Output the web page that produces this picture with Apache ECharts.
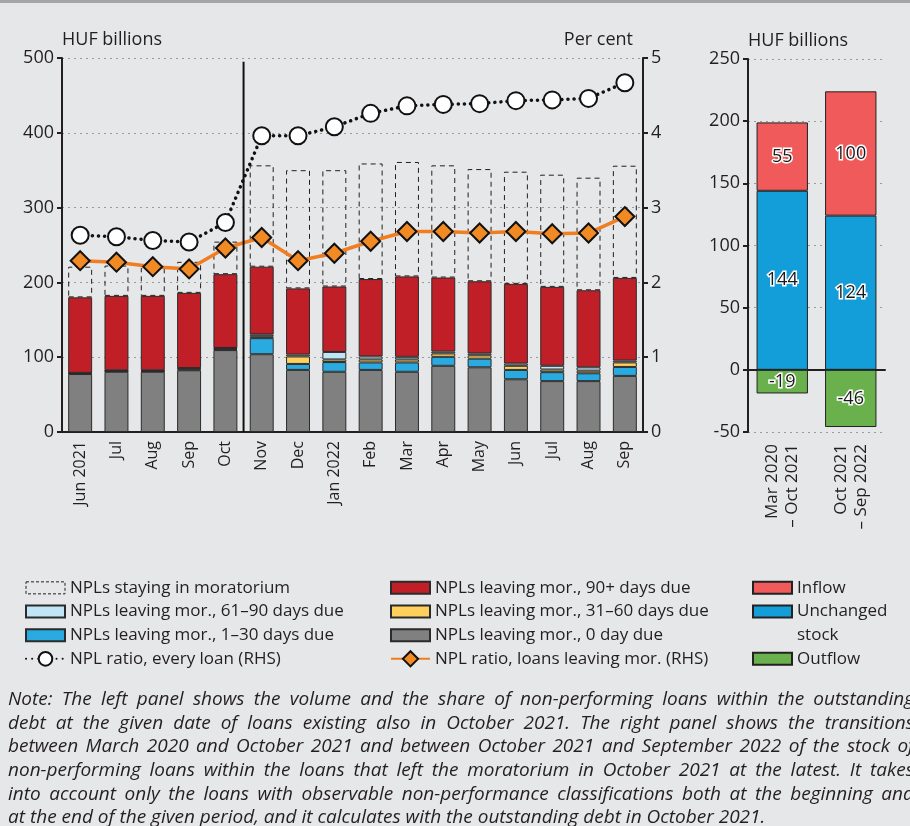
<!DOCTYPE html>
<html>
<head>
<meta charset="utf-8">
<title>NPLs leaving the moratorium</title>
<script src="https://cdn.jsdelivr.net/npm/echarts@6/dist/echarts.min.js"></script>
<style>
  html, body { margin: 0; padding: 0; background: #e6e7e8; }
  #chart { width: 910px; height: 826px; }
</style>
</head>
<body>
<div id="chart"></div>
<script>
// left panel: months
const months = ['Jun 2021', 'Jul', 'Aug', 'Sep', 'Oct', 'Nov', 'Dec', 'Jan 2022', 'Feb', 'Mar', 'Apr', 'May', 'Jun', 'Jul', 'Aug', 'Sep']
// HUF billions, stacked from the bottom
const zeroDay = [77.5, 80.5, 80.5, 82.5, 109.5, 104, 83, 80.5, 83, 80.5, 88.5, 86.5, 70.5, 68, 68, 75]
const days1to30 = [0.8, 0.8, 0.8, 1, 1, 21.5, 8, 13, 10, 12.5, 12, 11.5, 12.5, 12, 10.5, 12]
const days31to60 = [0.4, 0.5, 0.5, 1.5, 1, 2.5, 10, 3.5, 4, 4, 4.5, 4.5, 5.5, 3.5, 3.5, 6]
const days61to90 = [0.3, 0.7, 0.7, 0.5, 0.8, 2.5, 2.5, 10, 4, 3.5, 2.5, 2.5, 3, 5, 4.5, 2.5]
const days90plus = [101, 99.5, 99.5, 100.5, 98.7, 90.5, 88.5, 87.5, 103.5, 107.5, 99, 96.5, 106.5, 105.5, 103, 110.5]
const stayingMor = [41, 40.5, 37.5, 41.5, 43.5, 135.5, 158, 155.5, 154.5, 153, 150, 150, 150, 150, 150.5, 150]
// per cent (RHS)
const ratioEvery = [2.63, 2.61, 2.56, 2.54, 2.80, 3.96, 3.96, 4.08, 4.26, 4.36, 4.38, 4.39, 4.43, 4.44, 4.46, 4.67]
const ratioLeaving = [2.29, 2.27, 2.21, 2.18, 2.46, 2.60, 2.29, 2.39, 2.55, 2.68, 2.68, 2.66, 2.68, 2.65, 2.66, 2.88]

// right panel: transitions
const periods = ['Mar 2020\n\u2013 Oct 2021', 'Oct 2021\n\u2013 Sep 2022']
const unchanged = [144, 124]
const inflow = [55, 100]
const outflow = [-19, -46]

const noteLines = [
  'Note: The left panel shows the volume and the share of non-performing loans within the outstanding',
  'debt at the given date of loans existing also in October 2021. The right panel shows the transitions',
  'between March 2020 and October 2021 and between October 2021 and September 2022 of the stock of',
  'non-performing loans within the loans that left the moratorium in October 2021 at the latest. It takes',
  'into account only the loans with observable non-performance classifications both at the beginning and',
  'at the end of the given period, and it calculates with the outstanding debt in October 2021.'
]

const FONT = 'Open Sans'
const TXT = '#231f20'

const chart = echarts.init(document.getElementById('chart'))

function barSeries (name, data, color) {
  return {
    name: name,
    type: 'bar',
    stack: 'left',
    xAxisIndex: 0,
    yAxisIndex: 0,
    barWidth: '66%',
    data: data,
    itemStyle: { color: color, borderColor: '#2b2b2b', borderWidth: 1 },
    emphasis: { disabled: true }
  }
}

function rightBar (name, data, color) {
  return {
    name: name,
    type: 'bar',
    stack: 'right',
    xAxisIndex: 1,
    yAxisIndex: 2,
    barWidth: '75%',
    data: data,
    itemStyle: { color: color, borderColor: '#222', borderWidth: 1 },
    label: {
      show: true,
      position: 'inside',
      fontFamily: FONT,
      fontSize: 18,
      color: '#1a1a1a',
      textBorderColor: '#fff',
      textBorderWidth: 3
    },
    emphasis: { disabled: true }
  }
}

const valueAxisBase = {
  type: 'value',
  axisLine: { show: true, lineStyle: { color: '#231f20', width: 2 } },
  axisTick: { show: true, length: 5, lineStyle: { color: '#231f20', width: 2 } },
  axisLabel: { fontFamily: FONT, fontSize: 18, color: TXT, margin: 8 },
  nameTextStyle: { fontFamily: FONT, fontSize: 18, color: TXT },
  nameGap: 9
}

const legendBase = {
  orient: 'vertical',
  padding: 0,
  itemWidth: 39,
  itemHeight: 12,
  itemGap: 0,
  selectedMode: false,
  textStyle: { fontFamily: FONT, fontSize: 17, color: TXT, lineHeight: 23.7 }
}

const graphics = [
  { type: 'rect', left: 0, top: 0, shape: { width: 910, height: 3 }, style: { fill: '#a5a5a5' } },
  { type: 'text', left: 797, top: 627, style: { text: 'stock', fontFamily: FONT, fontSize: 17, fill: TXT } }
]

// note text, justified like the source (runs slightly past the right edge)
const noteFont = 'italic 19px "Open Sans"'
const measure = document.createElement('canvas').getContext('2d')
measure.font = noteFont
noteLines.forEach(function (line, i) {
  const top = 690 + i * 23.7
  const style = { fontFamily: FONT, fontStyle: 'italic', fontSize: 19, fill: TXT }
  if (i === noteLines.length - 1) {
    graphics.push({ type: 'text', left: 8, top: top, style: Object.assign({ text: line }, style) })
    return
  }
  const words = line.split(' ')
  const widths = words.map(function (w) { return measure.measureText(w).width })
  const total = widths.reduce(function (a, b) { return a + b }, 0)
  const gap = (914 - 8 - total) / (words.length - 1)
  let x = 8
  words.forEach(function (w, j) {
    graphics.push({ type: 'text', x: x, y: top, style: Object.assign({ text: w }, style) })
    x += widths[j] + gap
  })
})

chart.setOption({
  backgroundColor: '#e6e7e8',
  animation: false,
  textStyle: { fontFamily: FONT },
  grid: [
    { left: 62, right: 267, top: 58, bottom: 394 },
    { left: 748, right: 25, top: 59, bottom: 394 }
  ],
  xAxis: [
    {
      type: 'category',
      gridIndex: 0,
      data: months,
      axisLine: { lineStyle: { color: '#231f20', width: 2 } },
      axisTick: { length: 6, lineStyle: { color: '#231f20', width: 2 } },
      axisLabel: { rotate: 90, interval: 0, fontFamily: FONT, fontSize: 16, color: TXT, margin: 9 }
    },
    {
      type: 'category',
      gridIndex: 1,
      data: periods,
      axisLine: { lineStyle: { color: '#231f20', width: 2 } },
      axisTick: { length: 6, lineStyle: { color: '#231f20', width: 2 } },
      axisLabel: { rotate: 90, interval: 0, fontFamily: FONT, fontSize: 17, color: TXT, margin: 12, lineHeight: 20 }
    }
  ],
  yAxis: [
    Object.assign({}, valueAxisBase, {
      gridIndex: 0,
      min: 0,
      max: 500,
      interval: 100,
      name: 'HUF billions',
      nameLocation: 'end',
      nameTextStyle: Object.assign({}, valueAxisBase.nameTextStyle, { align: 'left' }),
      splitLine: { show: true, lineStyle: { color: '#9a9a9a', type: [2, 4], width: 1 } }
    }),
    Object.assign({}, valueAxisBase, {
      gridIndex: 0,
      position: 'right',
      min: 0,
      max: 5,
      interval: 1,
      name: 'Per cent',
      nameLocation: 'end',
      nameTextStyle: Object.assign({}, valueAxisBase.nameTextStyle, { align: 'right', padding: [0, 10, 0, 0] }),
      splitLine: { show: false }
    }),
    Object.assign({}, valueAxisBase, {
      gridIndex: 1,
      min: -50,
      max: 250,
      interval: 50,
      name: 'HUF billions',
      nameLocation: 'end',
      nameTextStyle: Object.assign({}, valueAxisBase.nameTextStyle, { align: 'left' }),
      splitLine: { show: true, lineStyle: { color: '#9a9a9a', type: [2, 4], width: 1 } }
    })
  ],
  legend: [
    Object.assign({}, legendBase, {
      left: 25,
      top: 576,
      data: [
        {
          name: 'NPLs staying in moratorium',
          icon: 'rect',
          itemStyle: { color: 'rgba(0,0,0,0)', borderColor: '#231f20', borderWidth: 1, borderType: [3, 2] }
        },
        { name: 'NPLs leaving mor., 61\u201390 days due', icon: 'rect' },
        { name: 'NPLs leaving mor., 1\u201330 days due', icon: 'rect' }
      ]
    }),
    Object.assign({}, legendBase, {
      left: 25,
      top: 647,
      itemHeight: 17,
      data: ['NPL ratio, every loan (RHS)']
    }),
    Object.assign({}, legendBase, {
      left: 390,
      top: 576,
      data: [
        { name: 'NPLs leaving mor., 90+ days due', icon: 'rect' },
        { name: 'NPLs leaving mor., 31\u201360 days due', icon: 'rect' },
        { name: 'NPLs leaving mor., 0 day due', icon: 'rect' }
      ]
    }),
    Object.assign({}, legendBase, {
      left: 390,
      top: 647,
      itemHeight: 19,
      data: ['NPL ratio, loans leaving mor. (RHS)']
    }),
    Object.assign({}, legendBase, {
      left: 752,
      top: 576,
      data: [
        { name: 'Inflow', icon: 'rect' },
        { name: 'Unchanged', icon: 'rect' }
      ]
    }),
    Object.assign({}, legendBase, {
      left: 752,
      top: 647,
      data: [{ name: 'Outflow', icon: 'rect' }]
    })
  ],
  series: [
    barSeries('NPLs leaving mor., 0 day due', zeroDay, '#808080'),
    barSeries('NPLs leaving mor., 1\u201330 days due', days1to30, '#29abe2'),
    barSeries('NPLs leaving mor., 31\u201360 days due', days31to60, '#ffd05c'),
    barSeries('NPLs leaving mor., 61\u201390 days due', days61to90, '#bfe5f6'),
    barSeries('NPLs leaving mor., 90+ days due', days90plus, '#c01f27'),
    {
      name: 'NPLs staying in moratorium',
      type: 'bar',
      stack: 'left',
      xAxisIndex: 0,
      yAxisIndex: 0,
      barWidth: '66%',
      data: stayingMor,
      itemStyle: { color: 'rgba(0,0,0,0)', borderColor: '#231f20', borderWidth: 1, borderType: [5, 4] },
      emphasis: { disabled: true }
    },
    {
      name: 'NPL ratio, every loan (RHS)',
      type: 'line',
      xAxisIndex: 0,
      yAxisIndex: 1,
      data: ratioEvery,
      z: 5,
      symbol: 'circle',
      symbolSize: 17,
      lineStyle: { color: '#111', width: 3.5, type: [0.1, 6], cap: 'round' },
      itemStyle: { color: '#fff', borderColor: '#111', borderWidth: 2 },
      emphasis: { disabled: true }
    },
    {
      name: 'NPL ratio, loans leaving mor. (RHS)',
      type: 'line',
      xAxisIndex: 0,
      yAxisIndex: 1,
      data: ratioLeaving,
      z: 6,
      symbol: 'diamond',
      symbolSize: 19,
      lineStyle: { color: '#ef7d22', width: 3.5 },
      itemStyle: { color: '#f28a24', borderColor: '#111', borderWidth: 2 },
      emphasis: { disabled: true }
    },
    rightBar('Unchanged', unchanged, '#139dd9'),
    rightBar('Inflow', inflow, '#f05a5b'),
    rightBar('Outflow', outflow, '#6ab04c')
  ],
  graphic: graphics
})

// vertical divider between Oct and Nov, placed through the axis scales
const xOct = chart.convertToPixel({ xAxisIndex: 0 }, 'Oct')
const xNov = chart.convertToPixel({ xAxisIndex: 0 }, 'Nov')
const yTop = chart.convertToPixel({ yAxisIndex: 0 }, 495)
const yBottom = chart.convertToPixel({ yAxisIndex: 0 }, 0)
graphics.push({
  type: 'line',
  z: 10,
  shape: { x1: (xOct + xNov) / 2, y1: yTop, x2: (xOct + xNov) / 2, y2: yBottom },
  style: { stroke: '#111', lineWidth: 2 }
})
chart.setOption({ graphic: graphics })
</script>
</body>
</html>
